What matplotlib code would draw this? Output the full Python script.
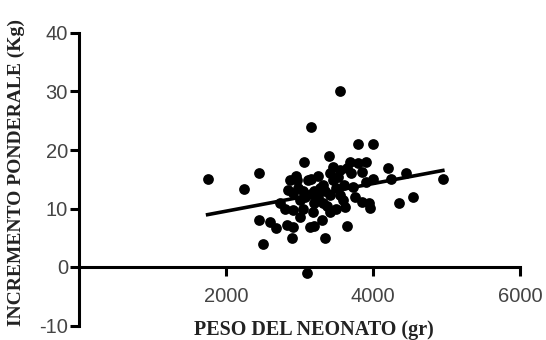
import numpy as np
import matplotlib.pyplot as plt

# peso del neonato (gr) e incremento ponderale della madre (Kg)
peso = [1750, 2250, 2450, 2450, 2500, 2600, 2680, 2830, 2900, 2730,
        2840, 2870, 2910, 2910, 2960, 2910, 3060, 3150, 3550, 3100,
        3110, 3140, 3180, 3250, 3320, 3350, 3400, 3410, 3410, 3450,
        3450, 3520, 3550, 3590, 3620, 3650, 3690, 3730, 3800, 3790,
        3850, 3850, 3960, 4000, 4000, 4200, 4350, 4450, 4550, 4950,
        3000, 3050, 3200, 3000, 3300, 3150, 3350, 3500, 3600, 3700,
        3750, 3900, 3250, 3150, 2800, 2950, 3500, 3650, 3380, 3050,
        3900, 4250, 3200, 3950, 3080, 3280, 3320, 2980, 3420, 3550,
        3200]
incremento = [15, 13.3, 16, 8, 4, 7.7, 6.7, 7.2, 5, 11,
              13.2, 14.9, 9.7, 12.6, 14.9, 6.8, 18, 24, 30, -1,
              14.9, 6.8, 9.4, 12, 14, 5, 19, 9.4, 12.3, 14.9,
              17.1, 15.4, 12.3, 11.4, 10.3, 7, 18, 13.7, 21, 17.8,
              16.2, 11.1, 10.1, 21, 15, 17, 11, 16, 12, 15,
              11.5, 13, 11, 8.5, 8, 12.5, 13, 10, 14, 16,
              12, 14.5, 15.5, 15, 10, 15.5, 13.5, 17, 10.5, 10,
              18, 15, 7, 11, 12, 13.5, 11, 13.5, 16, 16.5,
              13]

# retta di regressione
intercetta = 4.82
pendenza = 0.00236

fig = plt.figure(figsize=(5.46, 3.4), dpi=100)
ax = fig.add_axes([79/546, 1-325.5/340, (520-79)/546, 292.5/340])

ax.scatter(peso, incremento, s=60, color='black', zorder=3, linewidths=0)
xr = np.array([min(peso), max(peso)])
ax.plot(xr, intercetta + pendenza * xr, color='black', lw=2.6, zorder=2)

ax.set_xlim(0, 6000)
ax.set_ylim(-10, 40)
ax.set_xticks([2000, 4000, 6000])
ax.set_yticks([-10, 0, 10, 20, 30, 40])
ax.set_yticklabels(['-10', '0', '10', '20', '30', '40'])

ax.spines['top'].set_visible(False)
ax.spines['right'].set_visible(False)
ax.spines['bottom'].set_position(('data', 0))
for s in ('left', 'bottom'):
    ax.spines[s].set_linewidth(2.2)
ax.tick_params(axis='both', width=2.2, length=6.5, colors='black',
               labelcolor='#444444', labelsize=14.5)
ax.tick_params(axis='x', pad=8)
ax.tick_params(axis='y', pad=1.5)
for lab in ax.get_xticklabels() + ax.get_yticklabels():
    lab.set_family('Liberation Sans')

fig.text(314/546, 1-330/340, 'PESO DEL NEONATO (gr)', ha='center', va='center',
         family='Liberation Serif', weight='bold', fontsize=14.5, color='#222222')
fig.text(16/546, 1-172/340, 'INCREMENTO PONDERALE (Kg)', ha='center', va='center',
         rotation=90, family='Liberation Serif', weight='bold', fontsize=14,
         color='#222222')

plt.savefig('out.png', dpi=100)
